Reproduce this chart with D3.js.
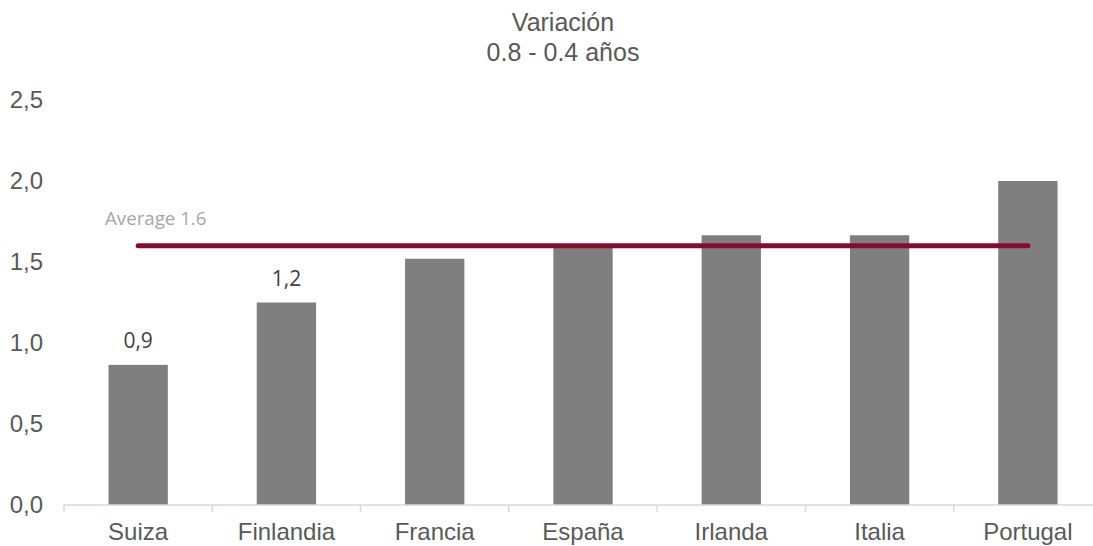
<!DOCTYPE html>
<html>
<head>
<meta charset="utf-8">
<script src="https://cdn.jsdelivr.net/npm/d3@7/dist/d3.min.js"></script>
<style>
  body { margin: 0; background: #fff; overflow: hidden; }
  svg { display: block; }
  svg text { font-family: "Liberation Sans", Arial, sans-serif; }
</style>
</head>
<body>
<div id="chart"></div>
<script>
// Data
var countries = ["Suiza", "Finlandia", "Francia", "España", "Irlanda", "Italia", "Portugal"];
var values = [0.865, 1.25, 1.52, 1.61, 1.665, 1.665, 2.0];
var labels = ["0,9", "1,2", "", "", "", "", ""];
var yTicks = [0, 0.5, 1.0, 1.5, 2.0, 2.5];
var average = 1.6;
var titleLines = ["Variación", "0.8 - 0.4 años"];

var W = 1093, H = 546;
// plot area runs past the right edge of the picture, as in the original
var margin = {top: 100, left: 64, bottom: 41};
var width = 1038,
    height = H - margin.top - margin.bottom;

var svg = d3.select("#chart").append("svg")
    .attr("width", W)
    .attr("height", H);

var g = svg.append("g")
    .attr("transform", "translate(" + margin.left + "," + margin.top + ")");

// Scales
var x = d3.scaleBand()
    .domain(countries)
    .range([0, width])
    .paddingInner(0.6)
    .paddingOuter(0.3);

var y = d3.scaleLinear()
    .domain([0, 2.5])
    .range([height, 0]);

// Title
svg.selectAll(".title").data(titleLines).enter().append("text")
    .attr("class", "title")
    .attr("x", 563)
    .attr("y", function(d, i) { return 31 + i * 30; })
    .attr("text-anchor", "middle")
    .attr("fill", "#595959")
    .style("font-size", "25px")
    .text(function(d) { return d; });

// Y axis labels
g.selectAll(".ytick").data(yTicks).enter().append("text")
    .attr("class", "ytick")
    .attr("x", -21)
    .attr("y", function(d) { return y(d); })
    .attr("dy", "0.35em")
    .attr("text-anchor", "end")
    .attr("fill", "#595959")
    .style("font-size", "24px")
    .text(function(d) { return d3.format(".1f")(d).replace(".", ","); });

// Bars
g.selectAll(".bar").data(values).enter().append("rect")
    .attr("class", "bar")
    .attr("x", function(d, i) { return x(countries[i]); })
    .attr("y", function(d) { return y(d); })
    .attr("width", x.bandwidth())
    .attr("height", function(d) { return height - y(d); })
    .attr("fill", "#7F7F7F");

// X axis
var xAxis = g.append("g")
    .attr("transform", "translate(0," + height + ")");
xAxis.append("line")
    .attr("x1", 0).attr("x2", width)
    .attr("y1", 0).attr("y2", 0)
    .attr("stroke", "#D9D9D9")
    .attr("stroke-width", 1.5);
var step = x.step();
xAxis.selectAll(".tickmark").data(d3.range(countries.length + 1)).enter().append("line")
    .attr("x1", function(d) { return d * step; })
    .attr("x2", function(d) { return d * step; })
    .attr("y1", 0).attr("y2", 7)
    .attr("stroke", "#D9D9D9")
    .attr("stroke-width", 1.5);
xAxis.selectAll(".xlabel").data(countries).enter().append("text")
    .attr("class", "xlabel")
    .attr("x", function(d) { return x(d) + x.bandwidth() / 2; })
    .attr("y", 35)
    .attr("text-anchor", "middle")
    .attr("fill", "#595959")
    .style("font-size", "24px")
    .text(function(d) { return d; });

// Data labels
g.selectAll(".dlabel").data(values).enter().append("text")
    .attr("class", "dlabel")
    .attr("x", function(d, i) { return x(countries[i]) + x.bandwidth() / 2; })
    .attr("y", function(d) { return y(d) - 17; })
    .attr("text-anchor", "middle")
    .attr("fill", "#404040")
    .style("font-family", "'Open Sans', sans-serif")
    .style("font-size", "21px")
    .text(function(d, i) { return labels[i]; });

// Average line, from first bar centre to last bar centre
g.append("line")
    .attr("x1", x(countries[0]) + x.bandwidth() / 2)
    .attr("x2", x(countries[countries.length - 1]) + x.bandwidth() / 2)
    .attr("y1", y(average)).attr("y2", y(average))
    .attr("stroke", "#850C2E")
    .attr("stroke-width", 5)
    .attr("stroke-linecap", "round");

g.append("text")
    .attr("x", 105 - margin.left)
    .attr("y", y(average) - 21)
    .attr("fill", "#A6A6A6")
    .style("font-family", "'Open Sans', sans-serif")
    .style("font-size", "18.7px")
    .text("Average " + average);
</script>
</body>
</html>
